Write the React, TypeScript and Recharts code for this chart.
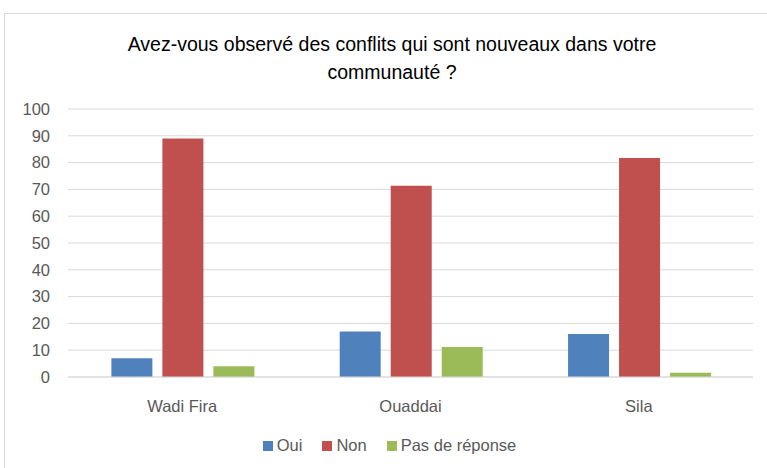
import React from "react";
import { BarChart, Bar, XAxis, YAxis, CartesianGrid, Legend } from "recharts";

const categories = ["Wadi Fira", "Ouaddai", "Sila"];
const oui = [7, 17, 16];
const non = [89, 71.4, 81.7];
const pasDeReponse = [4, 11.2, 1.6];
const yTicks = [0, 10, 20, 30, 40, 50, 60, 70, 80, 90, 100];
const titleLines = ["Avez-vous observé des conflits qui sont nouveaux dans votre", "communauté ?"];
const seriesNames = ["Oui", "Non", "Pas de réponse"];
const seriesColors = ["#4F81BD", "#C0504D", "#9BBB59"];

const data = categories.map((c, i) => ({
  name: c,
  Oui: oui[i],
  Non: non[i],
  "Pas de réponse": pasDeReponse[i],
}));

const FONT = "'Liberation Sans', Arial, sans-serif";

function LegendContent() {
  return (
    <div style={{ height: 51, display: "flex", justifyContent: "center", alignItems: "center", paddingTop: 6, boxSizing: "border-box", paddingLeft: 26 }}>
      {seriesNames.map((n, i) => (
        <div key={n} style={{ display: "flex", alignItems: "center", marginRight: i < seriesNames.length - 1 ? 20 : 0 }}>
          <span style={{ display: "inline-block", width: 10, height: 10, background: seriesColors[i], marginRight: 4 }} />
          <span style={{ fontSize: 16.5, color: "#595959", fontFamily: FONT }}>{n}</span>
        </div>
      ))}
    </div>
  );
}

export default function App() {
  return (
    <div style={{ position: "absolute", left: 0, top: 0, width: 767, height: 468, background: "#fff", overflow: "hidden", fontFamily: FONT }}>
      <div style={{ position: "absolute", left: 4, top: 13, width: 780, height: 470, border: "1px solid #d9d9d9", boxSizing: "border-box" }} />
      <div style={{ position: "absolute", left: 0, top: 30, width: 784, textAlign: "center", fontSize: 19.5, lineHeight: "28px", color: "#000" }}>
        {titleLines.map((l, i) => (
          <div key={i}>{l}</div>
        ))}
      </div>
      <div style={{ position: "absolute", left: 0, top: 0 }}>
        <BarChart
          width={767}
          height={468}
          data={data}
          margin={{ top: 109, right: 14, left: 0, bottom: 0 }}
          barGap={10}
          barCategoryGap="19%"
        >
          <CartesianGrid vertical={false} stroke="#d9d9d9" />
          <XAxis
            dataKey="name"
            axisLine={{ stroke: "#d9d9d9" }}
            tickLine={false}
            tick={{ fill: "#595959", fontSize: 16.5, fontFamily: FONT }}
            tickMargin={17}
            height={40}
          />
          <YAxis
            width={68}
            domain={[0, 100]}
            ticks={yTicks}
            interval={0}
            axisLine={false}
            tickLine={false}
            tickSize={6}
            tickMargin={12}
            tick={{ fill: "#595959", fontSize: 16.5, fontFamily: FONT }}
          />
          <Legend verticalAlign="bottom" height={51} content={<LegendContent />} />
          <Bar dataKey="Oui" fill={seriesColors[0]} isAnimationActive={false} />
          <Bar dataKey="Non" fill={seriesColors[1]} isAnimationActive={false} />
          <Bar dataKey="Pas de réponse" fill={seriesColors[2]} isAnimationActive={false} />
        </BarChart>
      </div>
    </div>
  );
}
